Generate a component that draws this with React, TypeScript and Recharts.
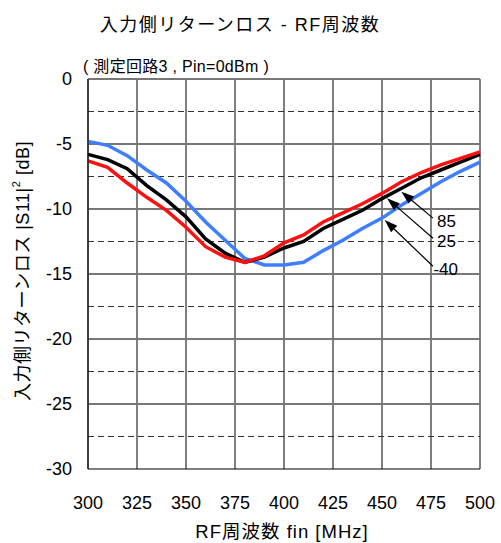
import React from "react";
import {
  CartesianGrid,
  Customized,
  Line,
  LineChart,
  ReferenceLine,
  XAxis,
  YAxis,
} from "recharts";

const FONT = "'Liberation Sans', Arial, 'Noto Sans CJK JP', sans-serif";

// 入力周波数 [MHz]
const freqs = [
  300, 310, 320, 330, 340, 350, 360, 370, 380, 390, 400,
  410, 420, 430, 440, 450, 460, 470, 480, 490, 500,
];

// |S11|^2 [dB] per ambient temperature
const s11At85 = [
  -6.3, -6.8, -8.0, -9.1, -10.1, -11.4, -12.9, -13.7, -14.1, -13.6, -12.6,
  -12.0, -11.0, -10.3, -9.6, -8.8, -7.9, -7.2, -6.6, -6.1, -5.6,
];
const s11At25 = [
  -5.8, -6.2, -6.9, -8.2, -9.3, -10.6, -12.3, -13.4, -14.1, -13.7, -13.0,
  -12.5, -11.5, -10.8, -10.1, -9.2, -8.4, -7.6, -7.0, -6.4, -5.8,
];
const s11AtMinus40 = [
  -4.8, -5.1, -5.9, -7.0, -8.0, -9.4, -11.0, -12.4, -13.8, -14.3, -14.3,
  -14.1, -13.2, -12.4, -11.5, -10.7, -9.7, -8.8, -7.9, -7.1, -6.4,
];

const xTicks = [300, 325, 350, 375, 400, 425, 450, 475, 500];
const yTicks = [-30, -25, -20, -15, -10, -5, 0];
const solidRows = [-5, -10, -15, -20, -25, 0];
const dashedRows = [-2.5, -7.5, -12.5, -17.5, -22.5, -27.5];

// 温度ラベルと矢印 (ラベル側の点 → 曲線側の点)
const tempLabels = ["85", "25", "-40"];
const arrowFrom = [
  { f: 476, db: -10.7 },
  { f: 476, db: -12.25 },
  { f: 476, db: -14.4 },
];
const arrowTo = [
  { f: 459.9, db: -8.67 },
  { f: 452.6, db: -9.18 },
  { f: 451.4, db: -10.85 },
];

const data = freqs.map((f, i) => ({
  f,
  t85: s11At85[i],
  t25: s11At25[i],
  tm40: s11AtMinus40[i],
}));

const makeArrow = (text: string) => (props: any) => {
  const { x1, y1, x2, y2 } = props;
  const ang = Math.atan2(y2 - y1, x2 - x1);
  const len = 13;
  const half = 4.5;
  const bx = x2 - len * Math.cos(ang);
  const by = y2 - len * Math.sin(ang);
  const nx = -Math.sin(ang) * half;
  const ny = Math.cos(ang) * half;
  const tx = text.startsWith("-") ? x1 + 0.5 : x1 + 4;
  return (
    <g>
      <line x1={x1} y1={y1} x2={bx} y2={by} stroke="#000" strokeWidth={1.2} />
      <polygon
        points={`${x2},${y2} ${bx + nx},${by + ny} ${bx - nx},${by - ny}`}
        fill="#000"
      />
      <text
        x={tx}
        y={y1 + 3}
        fontSize={17}
        fontFamily={FONT}
        fill="#000"
        dominantBaseline="central"
      >
        {text}
      </text>
    </g>
  );
};

const Titles = () => (
  <g fontFamily={FONT} fill="#000">
    <text x={240} y={31} fontSize={18} letterSpacing={1.5} textAnchor="middle">
      入力側リターンロス - RF周波数
    </text>
    <text x={83} y={72} fontSize={16} letterSpacing={0.3}>
      ( 測定回路3 , Pin=0dBm )
    </text>
    <text x={282} y={538} fontSize={18.5} letterSpacing={1} textAnchor="middle">
      RF周波数 fin [MHz]
    </text>
    <text
      x={0}
      y={0}
      fontSize={18}
      letterSpacing={0.5}
      textAnchor="middle"
      dominantBaseline="central"
      transform="translate(23 271) rotate(-90)"
    >
      入力側リターンロス |S11|
      <tspan fontSize={11} dy={-7}>
        2
      </tspan>
      <tspan dy={7}> [dB]</tspan>
    </text>
  </g>
);

const App: React.FC = () => {
  return (
    <div style={{ position: "absolute", left: 0, top: 0, background: "#fff" }}>
      <LineChart
        width={501}
        height={543}
        data={data}
        margin={{ top: 79, right: 21, bottom: 0, left: 0 }}
      >
        <CartesianGrid horizontal={false} stroke="#000" strokeWidth={1} />
        {solidRows.map((v) => (
          <ReferenceLine key={`s${v}`} y={v} stroke="#777" strokeWidth={2} />
        ))}
        {dashedRows.map((v) => (
          <ReferenceLine
            key={`d${v}`}
            y={v}
            stroke="#333"
            strokeWidth={1}
            strokeDasharray="6 4"
          />
        ))}
        <XAxis
          dataKey="f"
          type="number"
          domain={[300, 500]}
          ticks={xTicks}
          height={74}
          tickLine={false}
          tickSize={0}
          tickMargin={27}
          axisLine={{ stroke: "#000", strokeWidth: 1 }}
          tick={{ fill: "#000", fontSize: 18, fontFamily: FONT }}
        />
        <YAxis
          type="number"
          domain={[-30, 0]}
          ticks={yTicks}
          width={88}
          tickLine={false}
          tickSize={0}
          tickMargin={16}
          axisLine={{ stroke: "#000", strokeWidth: 1 }}
          tick={{ fill: "#000", fontSize: 18, fontFamily: FONT }}
        />
        <Line
          dataKey="tm40"
          stroke="#3f7fff"
          strokeWidth={3.5}
          dot={false}
          isAnimationActive={false}
        />
        <Line
          dataKey="t25"
          stroke="#000"
          strokeWidth={3.5}
          dot={false}
          isAnimationActive={false}
        />
        <Line
          dataKey="t85"
          stroke="#ff1010"
          strokeWidth={3.5}
          dot={false}
          isAnimationActive={false}
        />
        {tempLabels.map((t, i) => (
          <ReferenceLine
            key={t}
            segment={[
              { x: arrowFrom[i].f, y: arrowFrom[i].db },
              { x: arrowTo[i].f, y: arrowTo[i].db },
            ]}
            shape={makeArrow(t)}
          />
        ))}
        <Customized component={Titles} />
      </LineChart>
    </div>
  );
};

export default App;
